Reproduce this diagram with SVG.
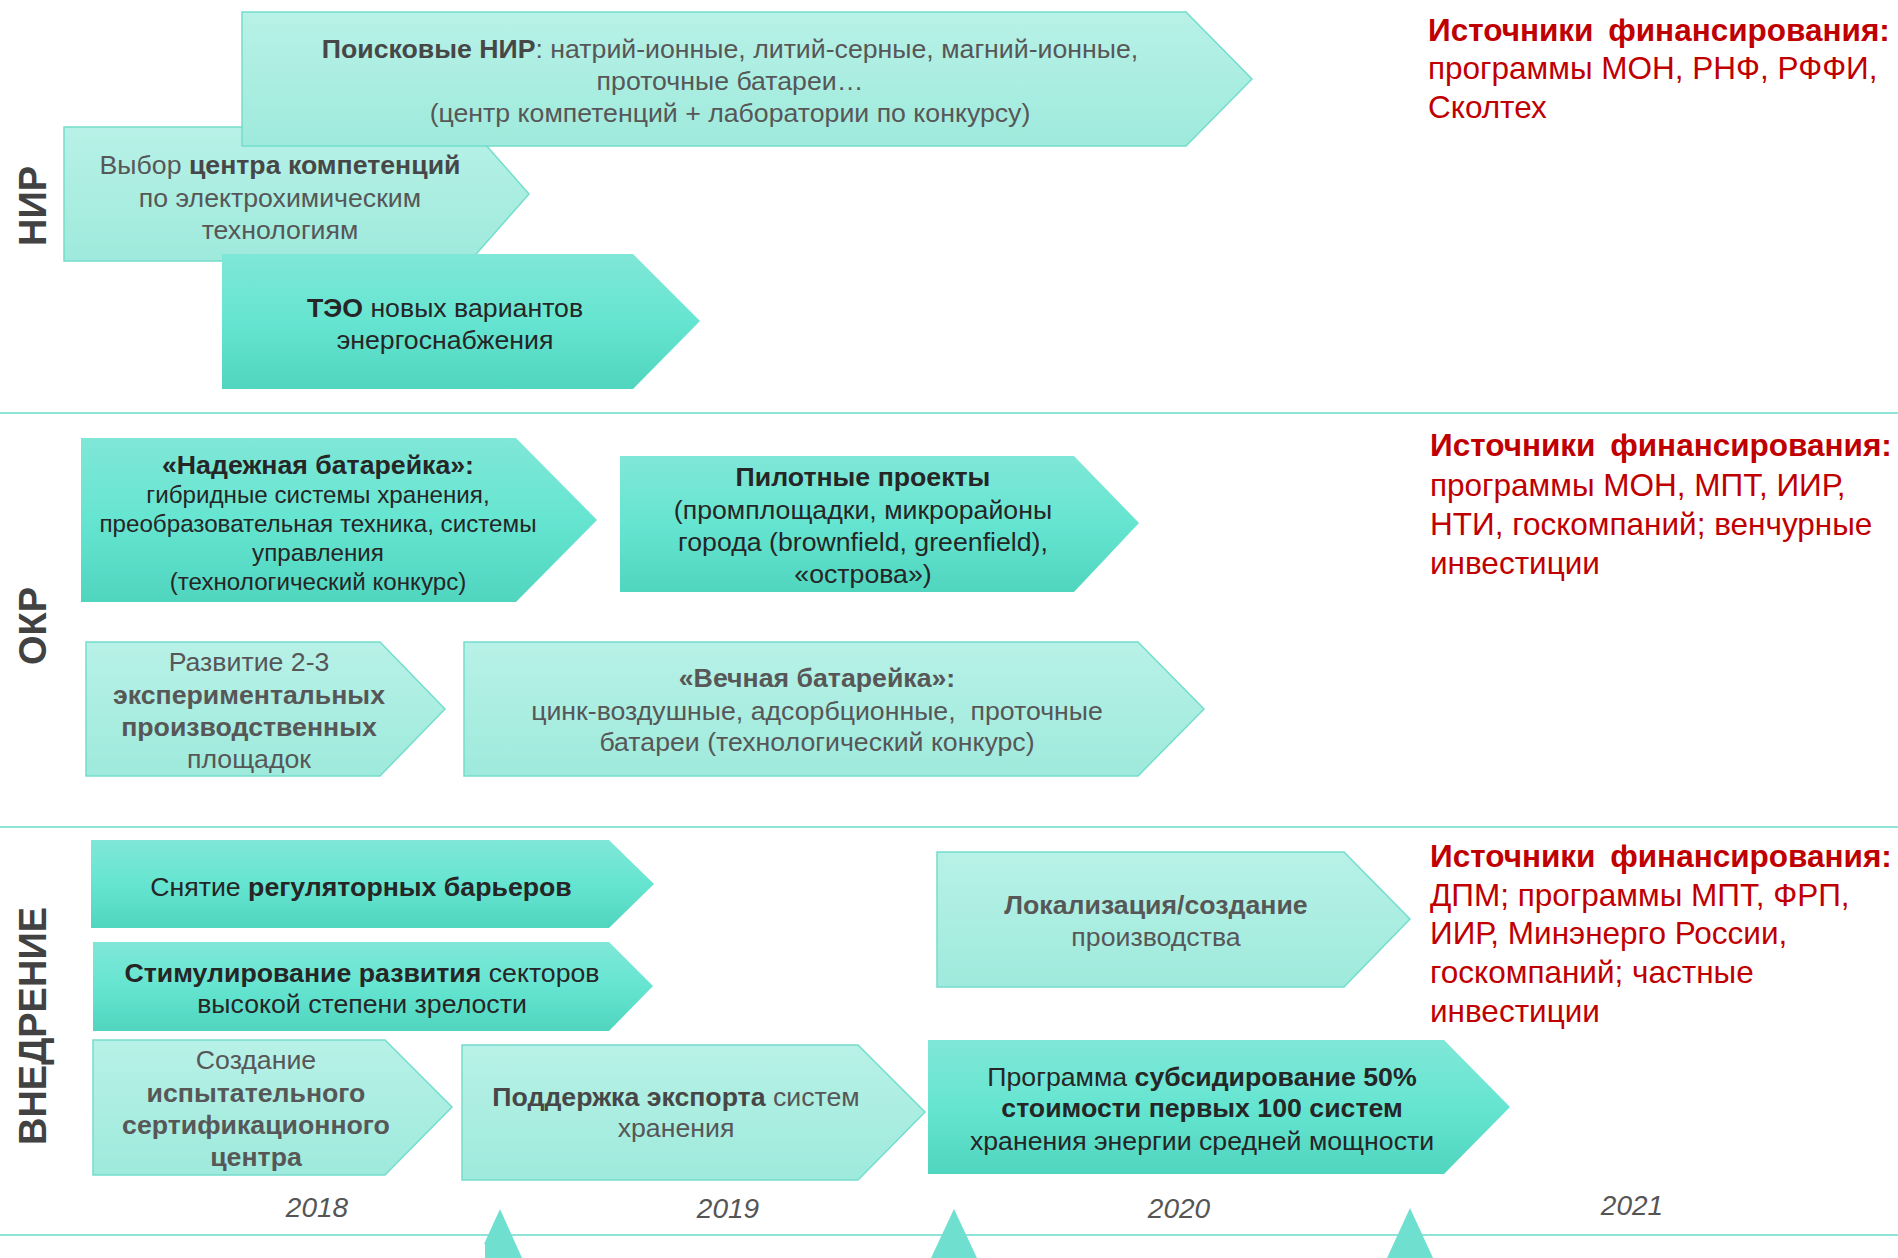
<svg xmlns="http://www.w3.org/2000/svg" width="1898" height="1258" viewBox="0 0 1898 1258">
<defs>
<linearGradient id="gLight" x1="0" y1="0" x2="0" y2="1">
<stop offset="0" stop-color="#b8f1e7"/>
<stop offset="1" stop-color="#9eeadc"/>
</linearGradient>
<linearGradient id="gDark" x1="0" y1="0" x2="0" y2="1">
<stop offset="0" stop-color="#80e7d7"/>
<stop offset="0.5" stop-color="#65e5d1"/>
<stop offset="1" stop-color="#50d5bf"/>
</linearGradient>
<style>
.lt{fill:url(#gLight);stroke:#74ddcb;stroke-width:1.5}
.dk{fill:url(#gDark)}
text{font-family:"Liberation Sans",Arial,sans-serif}
.t{font-size:26.7px;text-anchor:middle}
.sm{font-size:24.2px}
.tl{fill:#575757}
.tl .b{fill:#474747}
.td{fill:#262626}
.b{font-weight:bold}
.red{fill:#c00000;font-size:31.5px}
.hd{word-spacing:6px}
.yr{font-size:28px;font-style:italic;fill:#555;text-anchor:middle}
.lab{font-size:38px;font-weight:bold;fill:#424242;text-anchor:middle}
.sep{stroke:#8ee5d7;stroke-width:2}
.tri{fill:#6fe0cf}
</style>
</defs>
<rect width="1898" height="1258" fill="#ffffff"/>

<g id="separators">
<line class="sep" x1="0" y1="413" x2="1898" y2="413"/>
<line class="sep" x1="0" y1="827" x2="1898" y2="827"/>
<line class="sep" x1="0" y1="1235" x2="1898" y2="1235"/>
</g>

<g id="lane-labels">
<text class="lab" transform="translate(46,206) rotate(-90)">НИР</text>
<text class="lab" transform="translate(46,626) rotate(-90)">ОКР</text>
<text class="lab" transform="translate(46,1026) rotate(-90)">ВНЕДРЕНИЕ</text>
</g>

<g id="node-competence-center">
<polygon class="lt" points="64,127 470,127 529,194 470,261 64,261"/>
<text class="t tl" x="280" y="174"><tspan>Выбор </tspan><tspan class="b">центра компетенций</tspan></text>
<text class="t tl" x="280" y="207">по электрохимическим</text>
<text class="t tl" x="280" y="239">технологиям</text>
</g>

<g id="node-search-nir">
<polygon class="lt" points="242,12 1186,12 1252,79 1186,146 242,146"/>
<text class="t tl" x="730" y="58"><tspan class="b">Поисковые НИР</tspan><tspan>: натрий-ионные, литий-серные, магний-ионные,</tspan></text>
<text class="t tl" x="730" y="90">проточные батареи…</text>
<text class="t tl" x="730" y="122">(центр компетенций + лаборатории по конкурсу)</text>
</g>

<g id="node-teo">
<polygon class="dk" points="222,254 633,254 700,321 633,389 222,389"/>
<text class="t td" x="445" y="317"><tspan class="b">ТЭО</tspan><tspan> новых вариантов</tspan></text>
<text class="t td" x="445" y="349">энергоснабжения</text>
</g>

<g id="node-reliable-battery">
<polygon class="dk" points="81,438 516,438 597,520 516,602 81,602"/>
<text class="t td b" x="318" y="474">«Надежная батарейка»:</text>
<text class="t td sm" x="318" y="503">гибридные системы хранения,</text>
<text class="t td sm" x="318" y="532">преобразовательная техника, системы</text>
<text class="t td sm" x="318" y="561">управления</text>
<text class="t td sm" x="318" y="590">(технологический конкурс)</text>
</g>

<g id="node-pilot-projects">
<polygon class="dk" points="620,456 1074,456 1139,523 1074,592 620,592"/>
<text class="t td b" x="863" y="486">Пилотные проекты</text>
<text class="t td" x="863" y="519">(промплощадки, микрорайоны</text>
<text class="t td" x="863" y="551">города (brownfield, greenfield),</text>
<text class="t td" x="863" y="583">«острова»)</text>
</g>

<g id="node-experimental-sites">
<polygon class="lt" points="86,642 380,642 445,709 380,776 86,776"/>
<text class="t tl" x="249" y="671">Развитие 2-3</text>
<text class="t tl b" x="249" y="704">экспериментальных</text>
<text class="t tl b" x="249" y="736">производственных</text>
<text class="t tl" x="249" y="768">площадок</text>
</g>

<g id="node-eternal-battery">
<polygon class="lt" points="464,642 1138,642 1204,709 1138,776 464,776"/>
<text class="t tl b" x="817" y="687">«Вечная батарейка»:</text>
<text class="t tl" x="817" y="720" xml:space="preserve">цинк-воздушные, адсорбционные,  проточные</text>
<text class="t tl" x="817" y="751">батареи (технологический конкурс)</text>
</g>

<g id="node-regulatory-barriers">
<polygon class="dk" points="91,840 609,840 654,884 609,928 91,928"/>
<text class="t td" x="361" y="896"><tspan>Снятие </tspan><tspan class="b">регуляторных барьеров</tspan></text>
</g>

<g id="node-stimulation">
<polygon class="dk" points="93,942 609,942 653,986 609,1031 93,1031"/>
<text class="t td" x="362" y="982"><tspan class="b">Стимулирование развития</tspan><tspan> секторов</tspan></text>
<text class="t td" x="362" y="1013">высокой степени зрелости</text>
</g>

<g id="node-certification-center">
<polygon class="lt" points="93,1040 385,1040 452,1107 385,1175 93,1175"/>
<text class="t tl" x="256" y="1069">Создание</text>
<text class="t tl b" x="256" y="1102">испытательного</text>
<text class="t tl b" x="256" y="1134">сертификационного</text>
<text class="t tl b" x="256" y="1166">центра</text>
</g>

<g id="node-export-support">
<polygon class="lt" points="462,1045 858,1045 925,1112 858,1180 462,1180"/>
<text class="t tl" x="676" y="1106"><tspan class="b">Поддержка экспорта</tspan><tspan> систем</tspan></text>
<text class="t tl" x="676" y="1137">хранения</text>
</g>

<g id="node-localization">
<polygon class="lt" points="937,852 1344,852 1410,919 1344,987 937,987"/>
<text class="t tl b" x="1156" y="914">Локализация/создание</text>
<text class="t tl" x="1156" y="946">производства</text>
</g>

<g id="node-subsidy">
<polygon class="dk" points="928,1040 1444,1040 1510,1107 1444,1174 928,1174"/>
<text class="t td" x="1202" y="1086"><tspan>Программа </tspan><tspan class="b">субсидирование 50%</tspan></text>
<text class="t td b" x="1202" y="1117">стоимости первых 100 систем</text>
<text class="t td" x="1202" y="1150">хранения энергии средней мощности</text>
</g>

<g id="funding-nir">
<text class="red b hd" x="1428" y="41">Источники финансирования:</text>
<text class="red" x="1428" y="79">программы МОН, РНФ, РФФИ,</text>
<text class="red" x="1428" y="118">Сколтех</text>
</g>

<g id="funding-okr">
<text class="red b hd" x="1430" y="456">Источники финансирования:</text>
<text class="red" x="1430" y="496">программы МОН, МПТ, ИИР,</text>
<text class="red" x="1430" y="535">НТИ, госкомпаний; венчурные</text>
<text class="red" x="1430" y="574">инвестиции</text>
</g>

<g id="funding-impl">
<text class="red b hd" x="1430" y="867">Источники финансирования:</text>
<text class="red" x="1430" y="906">ДПМ; программы МПТ, ФРП,</text>
<text class="red" x="1430" y="944">ИИР, Минэнерго России,</text>
<text class="red" x="1430" y="983">госкомпаний; частные</text>
<text class="red" x="1430" y="1022">инвестиции</text>
</g>

<g id="timeline">
<text class="yr" x="317" y="1217">2018</text>
<text class="yr" x="728" y="1218">2019</text>
<text class="yr" x="1179" y="1218">2020</text>
<text class="yr" x="1632" y="1215">2021</text>
<polygon class="tri" points="500,1209 522,1258 485,1258 485,1244 484,1244"/>
<polygon class="tri" points="954,1209 977,1258 931,1258"/>
<polygon class="tri" points="1410,1208 1433,1258 1387,1258"/>
</g>
</svg>
